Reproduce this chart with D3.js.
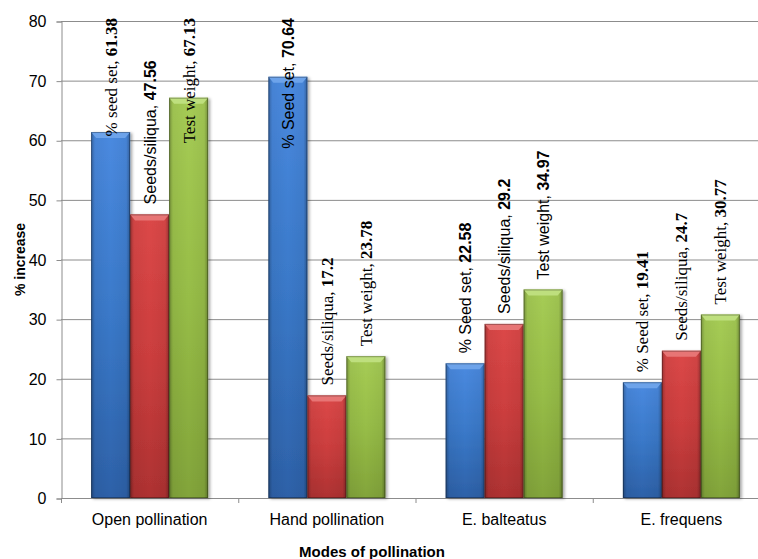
<!DOCTYPE html>
<html><head><meta charset="utf-8">
<script src="https://cdn.jsdelivr.net/npm/d3@7"></script>
<style>body{margin:0;background:#fff}svg{display:block}</style>
</head><body>
<svg id="chart" width="758" height="559"></svg>
<script>
const categories = ["Open pollination", "Hand pollination", "E. balteatus", "E. frequens"];
const seriesNames = ["seed", "siliqua", "weight"];
const seedSet = [61.38, 70.64, 22.58, 19.41];
const seedsPerSiliqua = [47.56, 17.2, 29.2, 24.7];
const testWeight = [67.13, 23.78, 34.97, 30.77];
const seedLabelText = ["% seed set, ", "% Seed set, ", "% Seed set, ", "% Seed set, "];
const siliquaLabelText = ["Seeds/siliqua, ", "Seeds/siliqua, ", "Seeds/siliqua, ", "Seeds/siliqua, "];
const weightLabelText = ["Test weight, ", "Test weight, ", "Test weight, ", "Test weight, "];
const seedLabelFont = ["serif", "sans", "sans", "serif"];
const siliquaLabelFont = ["sans", "serif", "sans", "serif"];
const weightLabelFont = ["serif", "serif", "sans", "serif"];
const yTicks = [0, 10, 20, 30, 40, 50, 60, 70, 80];

const svg = d3.select("#chart");
const pLeft = 61, pRight = 770, pTop = 21, pBottom = 498;
const y = d3.scaleLinear().domain([0, 80]).range([pBottom, pTop]);
const xCat = d3.scaleBand().domain(categories).range([pLeft, pRight]).padding(0);
const bw = xCat.bandwidth();
const xs = d3.scaleBand().domain(seriesNames).range([bw * 0.17, bw * 0.83]).padding(0);

const colors = {
  seed: {top: "#4a8ae0", mid: "#3a79c9", bot: "#2d61a8", cap: "#6da3ea"},
  siliqua: {top: "#dc4848", mid: "#cc3e3e", bot: "#ae3232", cap: "#e77575"},
  weight: {top: "#a6cc55", mid: "#97bd47", bot: "#82a43a", cap: "#bedf7e"}
};

const defs = svg.append("defs");
Object.entries(colors).forEach(([k, c]) => {
  const g = defs.append("linearGradient").attr("id", "g-" + k).attr("x1", 0).attr("y1", 0).attr("x2", 0).attr("y2", 1);
  g.append("stop").attr("offset", "0%").attr("stop-color", c.top);
  g.append("stop").attr("offset", "50%").attr("stop-color", c.mid);
  g.append("stop").attr("offset", "100%").attr("stop-color", c.bot);
});
const hg = defs.append("linearGradient").attr("id", "edge").attr("x1", 0).attr("y1", 0).attr("x2", 1).attr("y2", 0);
[[0, 0.28], [0.1, 0.05], [0.5, 0], [0.9, 0.05], [1, 0.3]].forEach(([o, a]) =>
  hg.append("stop").attr("offset", (o * 100) + "%").attr("stop-color", "#000").attr("stop-opacity", a));
const f = defs.append("filter").attr("id", "shadow").attr("x", "-20%").attr("y", "-5%").attr("width", "150%").attr("height", "115%");
f.append("feDropShadow").attr("dx", 2).attr("dy", 1).attr("stdDeviation", 1.5).attr("flood-color", "#000").attr("flood-opacity", 0.35);

// gridlines
svg.append("g").selectAll("line").data(yTicks).join("line")
  .attr("x1", pLeft).attr("x2", pRight).attr("y1", d => y(d) + 0.5).attr("y2", d => y(d) + 0.5)
  .attr("stroke", "#8c8c8c").attr("stroke-width", 1);

// y axis
const yAxis = svg.append("g").attr("transform", `translate(${pLeft + 0.5},0.5)`)
  .call(d3.axisLeft(y).tickValues(yTicks).tickSize(5).tickPadding(10));
yAxis.select(".domain").attr("stroke", "#8c8c8c");
yAxis.selectAll(".tick line").attr("stroke", "#8c8c8c");
yAxis.selectAll(".tick text").attr("font-family", "Liberation Sans, Arial, sans-serif").attr("font-size", 16).attr("fill", "#000");

// x axis
const boundaries = categories.map(c => xCat(c)).concat([pRight]);
svg.append("g").selectAll("line").data(boundaries).join("line")
  .attr("x1", d => d + 0.5).attr("x2", d => d + 0.5).attr("y1", pBottom).attr("y2", pBottom + 5)
  .attr("stroke", "#8c8c8c");
svg.append("line").attr("x1", pLeft).attr("x2", pRight).attr("y1", pBottom + 0.5).attr("y2", pBottom + 0.5).attr("stroke", "#8c8c8c");
svg.append("g").selectAll("text").data(categories).join("text")
  .attr("x", d => xCat(d) + bw / 2).attr("y", pBottom + 27)
  .attr("text-anchor", "middle").attr("font-family", "Liberation Sans, Arial, sans-serif").attr("font-size", 16)
  .text(d => d);

// bars data
const rows = [];
categories.forEach((c, i) => {
  rows.push({cat: c, s: "seed", v: seedSet[i], label: seedLabelText[i], font: seedLabelFont[i]});
  rows.push({cat: c, s: "siliqua", v: seedsPerSiliqua[i], label: siliquaLabelText[i], font: siliquaLabelFont[i]});
  rows.push({cat: c, s: "weight", v: testWeight[i], label: weightLabelText[i], font: weightLabelFont[i]});
});

const bars = svg.append("g").selectAll("g").data(rows).join("g")
  .attr("transform", d => `translate(${xCat(d.cat) + xs(d.s)},0)`);
const w = xs.bandwidth();
bars.append("rect").attr("x", 0).attr("y", d => y(d.v)).attr("width", w).attr("height", d => pBottom - y(d.v))
  .attr("fill", d => `url(#g-${d.s})`).attr("filter", "url(#shadow)");
bars.append("rect").attr("x", 0).attr("y", d => y(d.v)).attr("width", w).attr("height", d => pBottom - y(d.v))
  .attr("fill", "url(#edge)");
bars.append("path").attr("d", d => {
  const t = y(d.v);
  return `M0,${t}L${w},${t}L${w - 5},${t + 6}L5,${t + 6}Z`;
}).attr("fill", d => colors[d.s].cap);
bars.append("rect").attr("x", 0.5).attr("y", d => y(d.v) + 0.5).attr("width", w - 1).attr("height", d => pBottom - y(d.v) - 1)
  .attr("fill", "none").attr("stroke", "rgba(0,0,0,0.3)").attr("stroke-width", 1);

// labels
const labels = svg.append("g").selectAll("text").data(rows).join("text")
  .attr("font-family", d => d.font === "serif" ? "Liberation Serif, Times New Roman, serif" : "Liberation Sans, Arial, sans-serif")
  .attr("font-size", d => d.font === "serif" ? 17 : 16)
  .attr("fill", "#000")
  .attr("text-anchor", "start");
labels.append("tspan").text(d => d.label);
labels.append("tspan").attr("font-weight", "bold").text(d => d.v);
labels.each(function(d) {
  const len = this.getComputedTextLength();
  let b = y(d.v) - 10;
  if (b - len < 18) b = 18 + len;
  const cx = xCat(d.cat) + xs(d.s) + w / 2 + 6;
  d3.select(this).attr("transform", `translate(${cx},${b}) rotate(-90)`);
});

// axis titles
svg.append("text").attr("x", 372).attr("y", 557).attr("text-anchor", "middle")
  .attr("font-family", "Liberation Sans, Arial, sans-serif").attr("font-weight", "bold").attr("font-size", 15)
  .text("Modes of pollination");
svg.append("text").attr("transform", `translate(25,${(pTop + pBottom) / 2}) rotate(-90)`).attr("text-anchor", "middle")
  .attr("font-family", "Liberation Sans, Arial, sans-serif").attr("font-weight", "bold").attr("font-size", 14)
  .text("% increase");
</script>
</body></html>
